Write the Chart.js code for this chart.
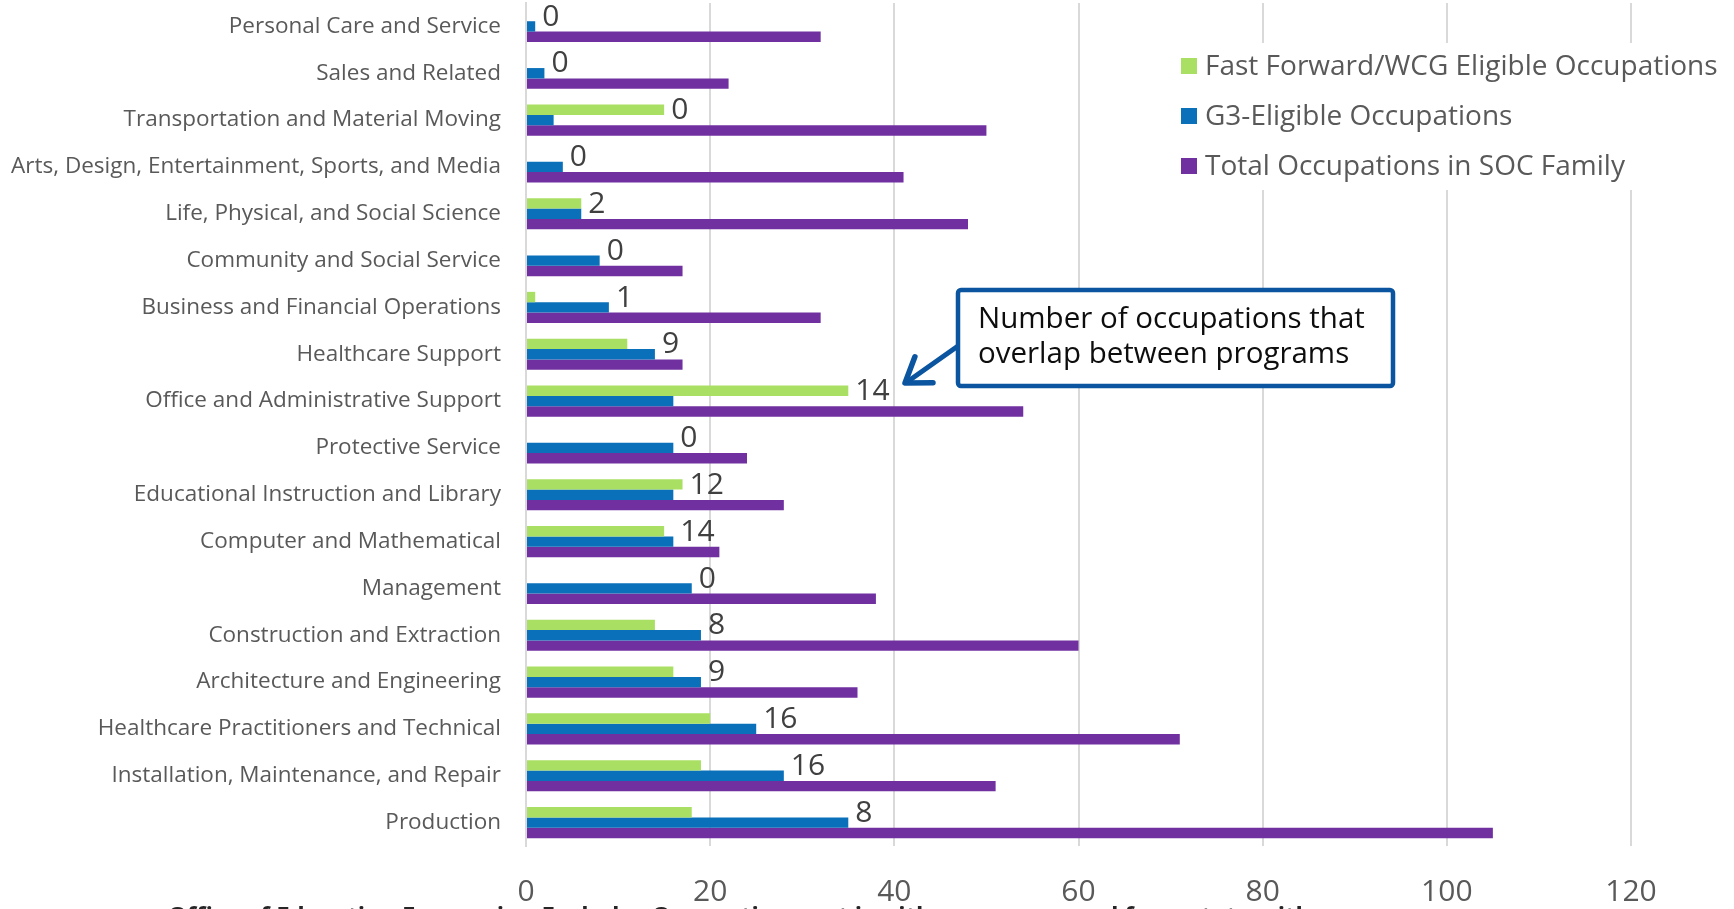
<!DOCTYPE html>
<html>
<head>
<meta charset="utf-8">
<title>SOC families</title>
<script src="https://cdn.jsdelivr.net/npm/chart.js@4.4.1/dist/chart.umd.min.js"></script>
<style>
    html, body { margin: 0; padding: 0; background: #ffffff; }
    #wrap { width: 1734px; height: 909px; position: relative; }
</style>
</head>
<body>
<div id="wrap"><canvas id="graph"></canvas></div>
<script>
const categories = [
    'Personal Care and Service',
    'Sales and Related',
    'Transportation and Material Moving',
    'Arts, Design, Entertainment, Sports, and Media',
    'Life, Physical, and Social Science',
    'Community and Social Service',
    'Business and Financial Operations',
    'Healthcare Support',
    'Office and Administrative Support',
    'Protective Service',
    'Educational Instruction and Library',
    'Computer and Mathematical',
    'Management',
    'Construction and Extraction',
    'Architecture and Engineering',
    'Healthcare Practitioners and Technical',
    'Installation, Maintenance, and Repair',
    'Production'
];
const fastForward = [0, 0, 15, 0, 6, 0, 1, 11, 35, 0, 17, 15, 0, 14, 16, 20, 19, 18];
const g3Eligible  = [1, 2, 3, 4, 6, 8, 9, 14, 16, 16, 16, 16, 18, 19, 19, 25, 28, 35];
const totalSoc    = [32, 22, 50, 41, 48, 17, 32, 17, 54, 24, 28, 21, 38, 60, 36, 71, 51, 105];
// overlap between programs, printed next to each group
const overlap     = [0, 0, 0, 0, 2, 0, 1, 9, 14, 0, 12, 14, 0, 8, 9, 16, 16, 8];

const seriesNames = [
    'Fast Forward/WCG Eligible Occupations',
    'G3-Eligible Occupations',
    'Total Occupations in SOC Family'
];
const seriesColors = ['#a9e063', '#0a70ba', '#7030a0'];

const xMin = 0;
const xMax = 120;
const xStep = 20;

const noteLines = ['Number of occupations that', 'overlap between programs'];
const sourceText = 'Office of Education Economics, Excludes Occupations not in either program and from state with';

const FONT = '"Open Sans", "Noto Sans", sans-serif';

// overlap counts, drawn just past the longer of the two program bars
const overlapLabels = {
    id: 'overlapLabels',
    afterDatasetsDraw(chart) {
        let ctx = chart.ctx;
        let xs = chart.scales.x;
        let green = chart.getDatasetMeta(0).data;
        ctx.save();
        ctx.font = '30px ' + FONT;
        ctx.fillStyle = '#404040';
        ctx.textAlign = 'left';
        ctx.textBaseline = 'middle';
        for (let i = 0; i < overlap.length; i++) {
            let v = Math.max(fastForward[i], g3Eligible[i]);
            let x = xs.getPixelForValue(v) + 7;
            let y = green[i].y + 1;
            ctx.fillText(String(overlap[i]), x, y);
        }
        ctx.restore();
    }
};

// legend sits on a white patch over the top right of the plot
const sideLegend = {
    id: 'sideLegend',
    afterDraw(chart) {
        let ctx = chart.ctx;
        ctx.save();
        ctx.fillStyle = '#ffffff';
        ctx.fillRect(1172, 43, 562, 147);
        ctx.font = '28px ' + FONT;
        ctx.textAlign = 'left';
        ctx.textBaseline = 'middle';
        for (let i = 0; i < seriesNames.length; i++) {
            let cy = 66 + i * 50;
            ctx.fillStyle = seriesColors[i];
            ctx.fillRect(1181, cy - 8, 16, 16);
            ctx.fillStyle = '#595959';
            ctx.fillText(seriesNames[i], 1205, cy + 1);
        }
        ctx.restore();
    }
};

// callout box with arrow pointing at the office overlap label
const callout = {
    id: 'callout',
    afterDraw(chart) {
        let ctx = chart.ctx;
        let left = 958, top = 290, w = 435, h = 96;
        ctx.save();
        ctx.strokeStyle = '#0b55a0';
        ctx.lineWidth = 5;
        ctx.lineJoin = 'round';
        ctx.lineCap = 'round';

        // arrow
        let sx = 958, sy = 346, tx = 905, ty = 383;
        ctx.beginPath();
        ctx.moveTo(sx, sy);
        ctx.lineTo(tx + 2, ty - 1);
        ctx.stroke();
        let ang = Math.atan2(ty - sy, tx - sx);
        let len = 28;
        ctx.lineWidth = 5.5;
        ctx.beginPath();
        ctx.moveTo(tx + len * Math.cos(ang + Math.PI - 0.6), ty + len * Math.sin(ang + Math.PI - 0.6));
        ctx.lineTo(tx, ty);
        ctx.lineTo(tx + len * Math.cos(ang + Math.PI + 0.6), ty + len * Math.sin(ang + Math.PI + 0.6));
        ctx.stroke();

        ctx.lineWidth = 4.5;
        ctx.fillStyle = '#ffffff';
        ctx.beginPath();
        ctx.roundRect(left, top, w, h, 3);
        ctx.fill();
        ctx.stroke();

        ctx.fillStyle = '#0d0d0d';
        ctx.font = '29.5px ' + FONT;
        ctx.textAlign = 'left';
        ctx.textBaseline = 'middle';
        ctx.fillText(noteLines[0], left + 20, top + 30);
        ctx.fillText(noteLines[1], left + 20, top + 65);

        // source line, cut off by the bottom of the image
        ctx.fillStyle = '#262626';
        ctx.font = 'bold 24px ' + FONT;
        ctx.textBaseline = 'alphabetic';
        ctx.fillText(sourceText, 168, 924);
        ctx.restore();
    }
};

function drawGraph() {
    let graph = document.getElementById('graph').getContext('2d');
    let datasets = [fastForward, g3Eligible, totalSoc].map(function (vals, i) {
        return {
            label: seriesNames[i],
            data: vals,
            backgroundColor: seriesColors[i],
            borderWidth: 0,
            categoryPercentage: 0.665,
            barPercentage: 1.0
        };
    });

    new Chart(graph, {
        type: 'bar',
        data: { labels: categories, datasets: datasets },
        options: {
            indexAxis: 'y',
            responsive: true,
            maintainAspectRatio: false,
            animation: false,
            layout: { padding: { top: 3, right: 103, bottom: 0, left: 0 } },
            plugins: {
                legend: { display: false },
                tooltip: { enabled: false }
            },
            scales: {
                x: {
                    min: xMin,
                    max: xMax,
                    afterFit: function (scale) { scale.height = 63; },
                    ticks: {
                        stepSize: xStep,
                        padding: 28,
                        color: '#595959',
                        font: { family: FONT, size: 30 }
                    },
                    grid: { color: '#d9d9d9', lineWidth: 2, drawTicks: false },
                    border: { display: false }
                },
                y: {
                    afterFit: function (scale) {
                        scale.width = 526;
                        scale.paddingTop = 0;
                        scale.paddingBottom = 0;
                    },
                    ticks: {
                        padding: 25,
                        color: '#595959',
                        autoSkip: false,
                        font: { family: FONT, size: 22.5 }
                    },
                    grid: { display: false, drawTicks: false },
                    border: { display: true, color: '#d9d9d9', width: 2 }
                }
            }
        },
        plugins: [overlapLabels, sideLegend, callout]
    });
}

document.fonts.load('22px "Open Sans"').then(drawGraph, drawGraph);
</script>
</body>
</html>
